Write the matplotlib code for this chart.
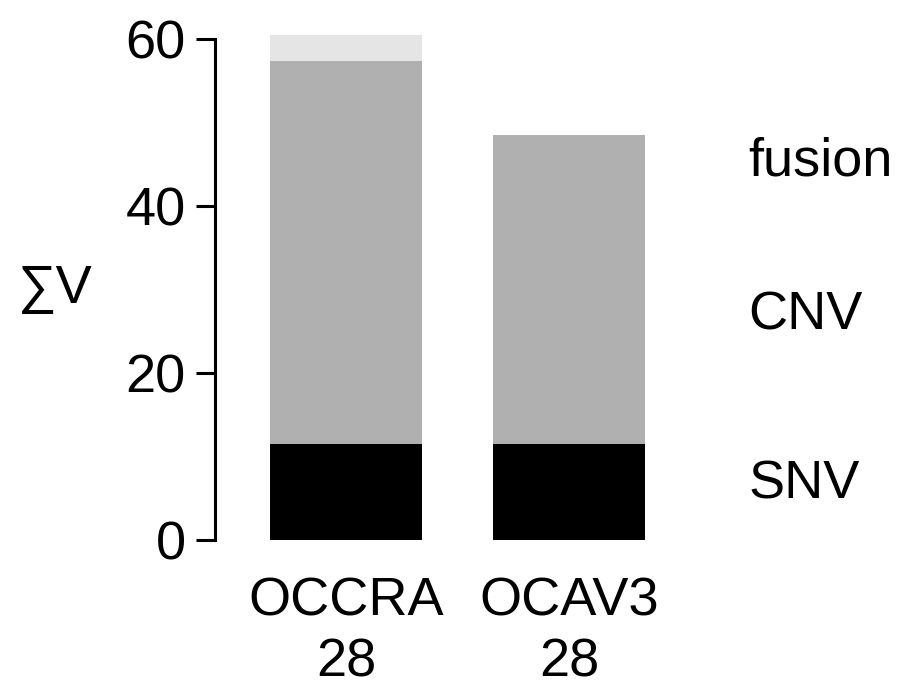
import matplotlib
matplotlib.use("Agg")
from matplotlib import pyplot as plt

samples = ["OCCRA\n28", "OCAV3\n28"]
snv = [11.5, 11.5]
cnv = [45.9, 37.0]
fusion = [3.1, 0.0]

classes = ["SNV", "CNV", "fusion"]
class_label_y = [6.6, 26.9, 45.3]
colors = ["#000000", "#b0b0b0", "#e5e5e5"]

plt.rcParams["font.family"] = ["Liberation Sans", "DejaVu Sans"]
FS = 39


def main():
    fig = plt.figure(figsize=(9, 6.86), dpi=100)
    ax = fig.add_axes([0.2389, 0.2128, 0.539, 0.7547])

    x = list(range(len(samples)))
    bottom = [0.0] * len(samples)
    for vals, col in zip([snv, cnv, fusion], colors):
        ax.bar(x, vals, width=0.68, bottom=bottom, color=col, linewidth=0)
        bottom = [b + v for b, v in zip(bottom, vals)]

    # class labels on the right
    for name, yy in zip(classes, class_label_y):
        ax.text(1.803, yy, name, fontsize=FS, ha="left", va="center", clip_on=False)

    ax.set_xlim(-0.587, 1.588)
    ax.set_ylim(0, 62)
    ax.set_xticks(x)
    ax.set_xticklabels(samples, fontsize=FS, linespacing=1.3)
    ax.tick_params(axis="x", length=0, pad=26)
    ax.set_yticks([0, 20, 40, 60])
    ax.tick_params(axis="y", labelsize=FS, width=2.2, length=14, pad=7)

    for s in ["top", "right", "bottom"]:
        ax.spines[s].set_visible(False)
    ax.spines["left"].set_bounds(0, 60)
    ax.spines["left"].set_linewidth(2.2)

    ax.set_ylabel("∑V", fontsize=FS, rotation=0, va="center")
    ax.yaxis.set_label_coords(-0.33, 0.485)

    fig.savefig("out.png", dpi=100)


if __name__ == "__main__":
    main()
